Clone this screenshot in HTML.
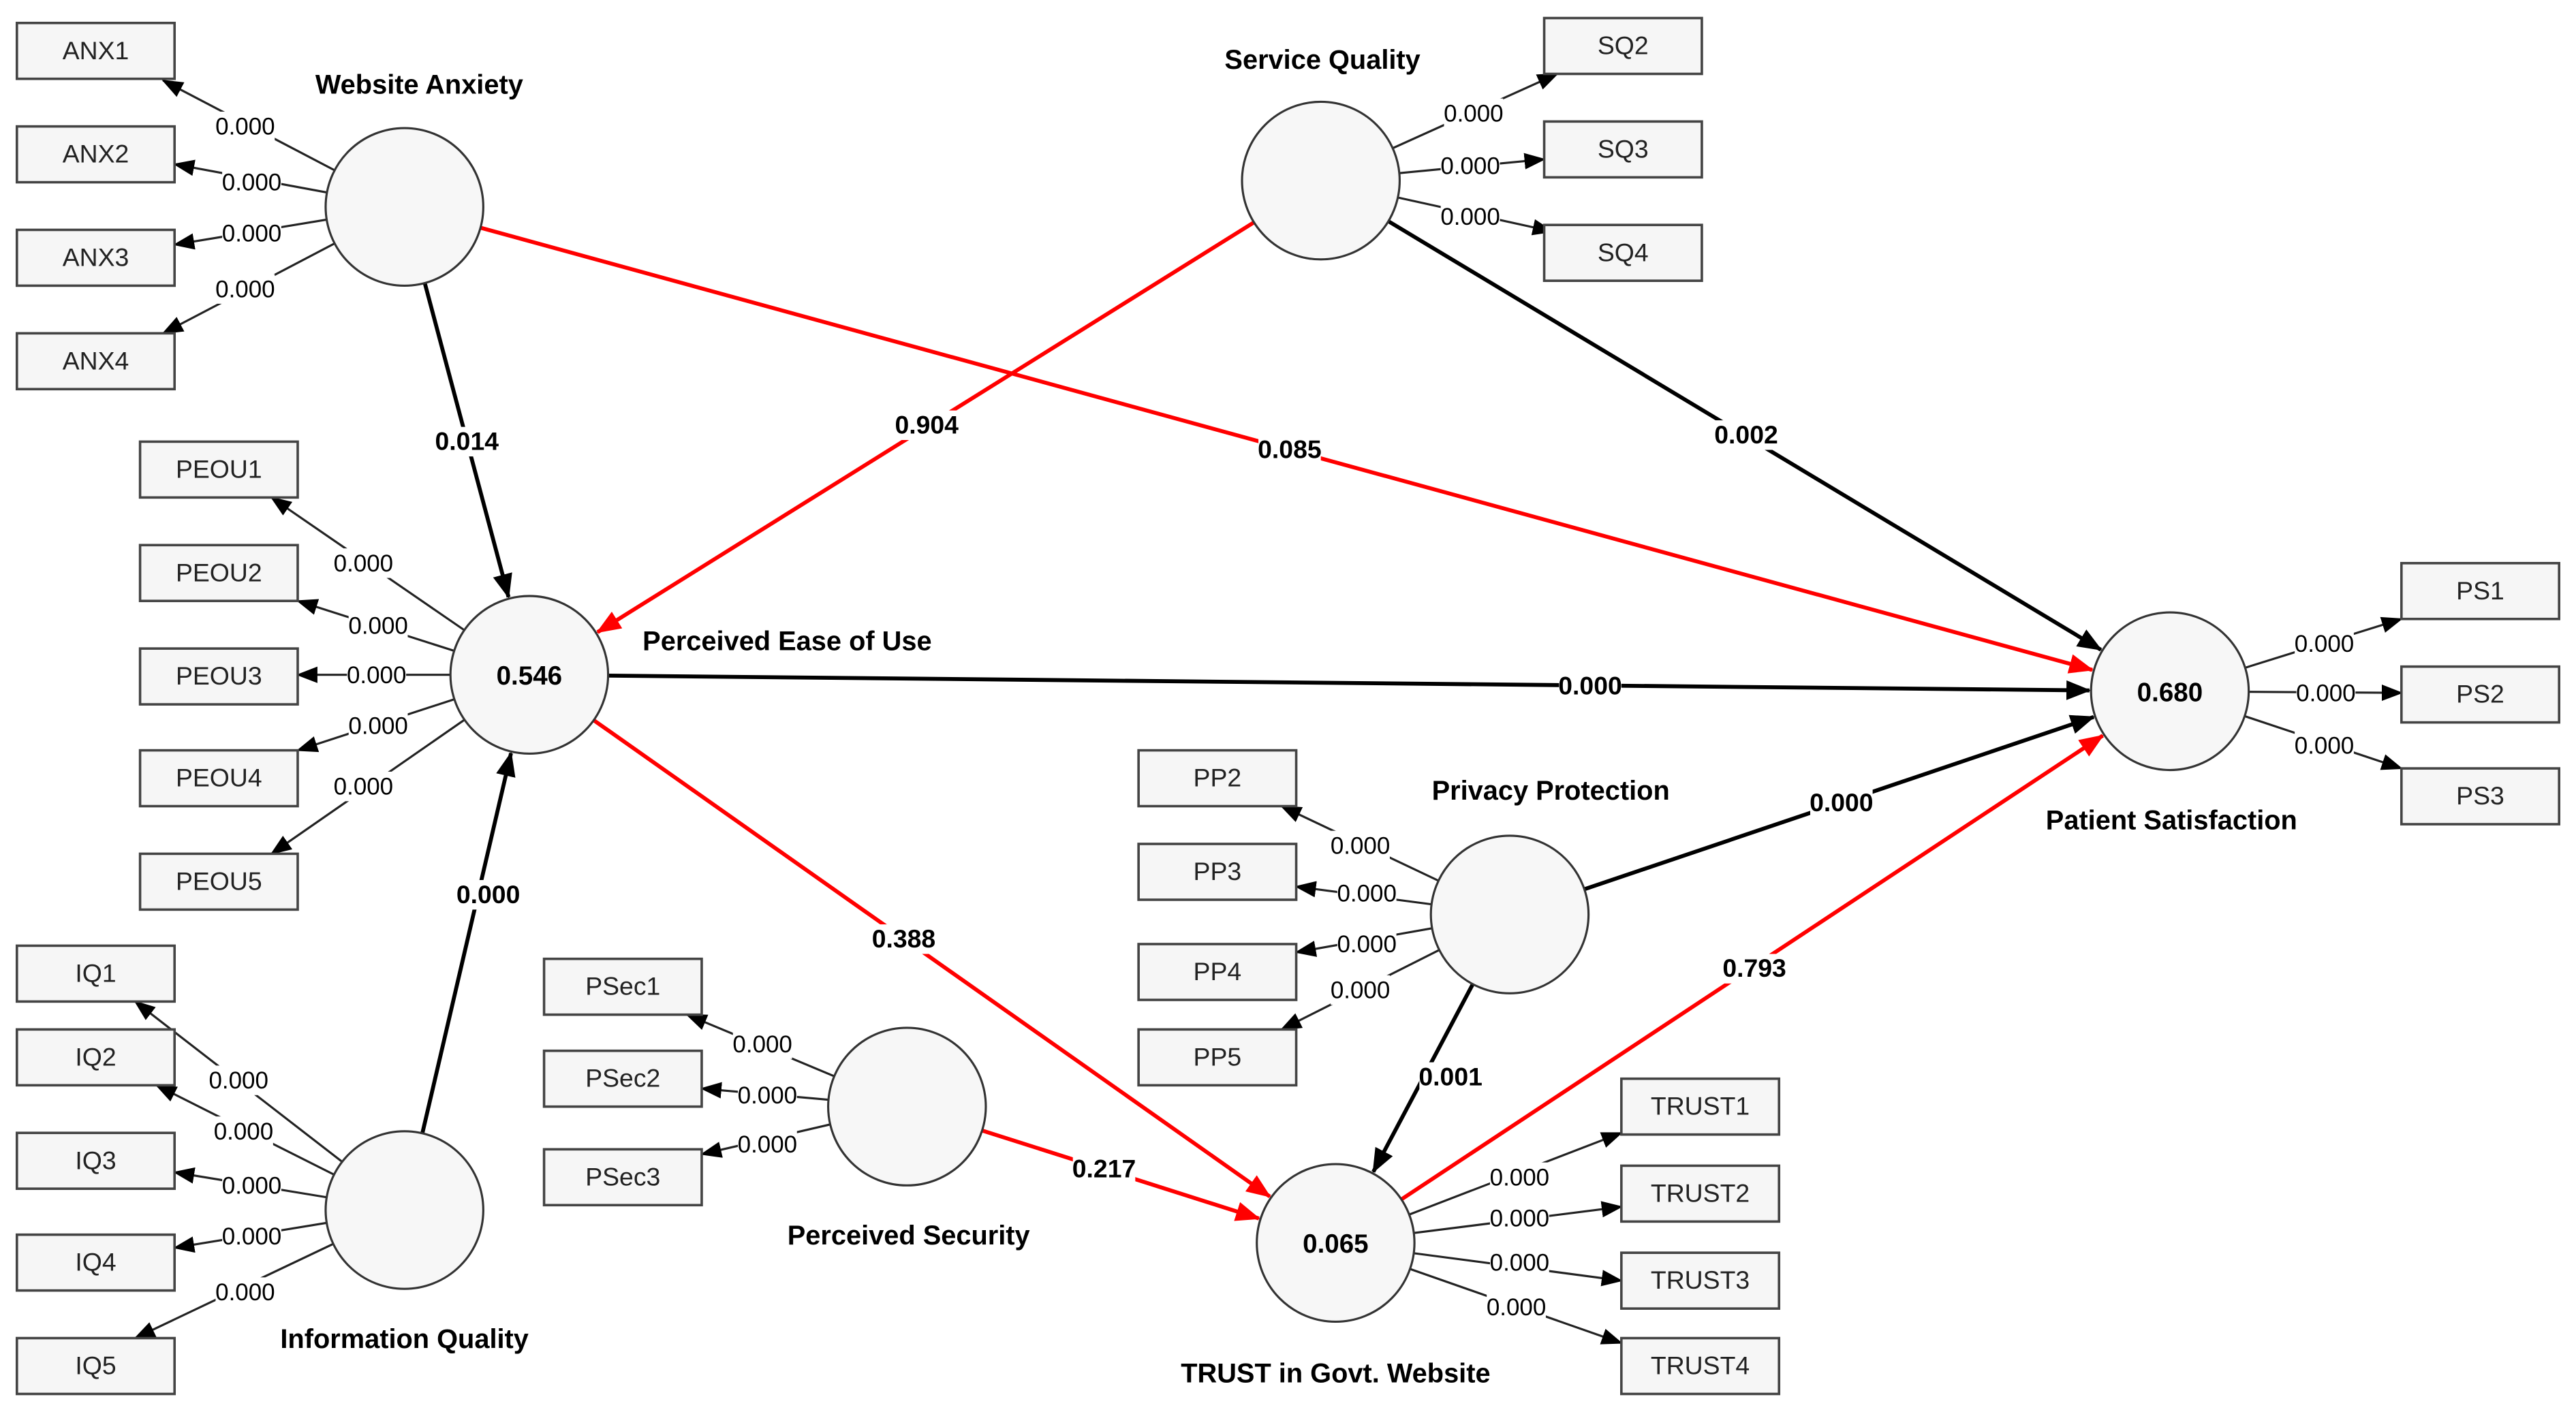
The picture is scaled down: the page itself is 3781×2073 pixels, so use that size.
<!DOCTYPE html>
<html><head><meta charset="utf-8"><style>
html,body{margin:0;padding:0;background:#fff;}
svg{display:block;}
text{font-family:"Liberation Sans",sans-serif;}
</style></head><body>
<svg id="s" xmlns="http://www.w3.org/2000/svg" width="3781" height="2073" viewBox="0 0 1568 860">
<defs>
<marker id="ab" markerUnits="userSpaceOnUse" markerWidth="16" markerHeight="14" refX="14" refY="7" orient="auto"><path d="M0,1 L15,7 L0,13 z" fill="#000"/></marker>
<marker id="ar" markerUnits="userSpaceOnUse" markerWidth="16" markerHeight="14" refX="14" refY="7" orient="auto"><path d="M0,1 L15,7 L0,13 z" fill="#f00"/></marker>
<marker id="as" markerUnits="userSpaceOnUse" markerWidth="14" markerHeight="12" refX="12" refY="6" orient="auto"><path d="M0,1 L13,6 L0,11 z" fill="#000"/></marker>
</defs>
<rect width="1568" height="860" fill="#fff"/>
<g id="lines"></g><g id="nodes"></g><g id="labels"></g>
</svg>
<script>
var NS="http://www.w3.org/2000/svg";
function el(p,t,a,txt){var e=document.createElementNS(NS,t);for(var k in a)e.setAttribute(k,a[k]);if(txt!==undefined)e.textContent=txt;document.getElementById(p).appendChild(e);return e;}
var R=48;
var C={WA:[246,126],SQ:[804,110],PEOU:[322,411],PS:[1321,421],PP:[919,557],PSEC:[552,674],TR:[813,757],IQ:[246,737]};
var vals={PEOU:"0.546",PS:"0.680",TR:"0.065"};
for(var k in C){el("nodes","circle",{cx:C[k][0],cy:C[k][1],r:R,fill:"#f7f7f7",stroke:"#333","stroke-width":1.3});
 if(vals[k])el("nodes","text",{x:C[k][0],y:C[k][1]+6,"text-anchor":"middle","font-size":16,"font-weight":"bold"},vals[k]);}
function lab(x,y,t,b){var w=b?38:36;el("labels","rect",{x:x-w/2,y:y-9,width:w,height:18,fill:"#fff"});
 el("labels","text",{x:x,y:y+5,"text-anchor":"middle","font-size":b?15.5:14.5,"font-weight":b?"bold":"normal"},t);}
function edge(a,tx,ty,col,lx,ly,t){var c=C[a];var dx=tx-c[0],dy=ty-c[1],d=Math.hypot(dx,dy);
 el("lines","line",{x1:c[0]+dx/d*R,y1:c[1]+dy/d*R,x2:tx,y2:ty,stroke:col=="r"?"#f00":"#000","stroke-width":2.4,"marker-end":col=="r"?"url(#ar)":"url(#ab)"});lab(lx,ly,t,true);}
function edgeN(a,b,col,lx,ly,t){var s=C[a],e=C[b];var dx=e[0]-s[0],dy=e[1]-s[1],d=Math.hypot(dx,dy);
 el("lines","line",{x1:s[0]+dx/d*R,y1:s[1]+dy/d*R,x2:e[0]-dx/d*(R+1),y2:e[1]-dy/d*(R+1),stroke:col=="r"?"#f00":"#000","stroke-width":2.4,"marker-end":col=="r"?"url(#ar)":"url(#ab)"});lab(lx,ly,t,true);}
function box(x,y,t){el("nodes","rect",{x:x,y:y,width:96,height:34,fill:"#f6f6f6",stroke:"#444","stroke-width":1.5});
 el("nodes","text",{x:x+48,y:y+22,"text-anchor":"middle","font-size":15.5,fill:"#222"},t);}
function load(a,tx,ty,lx,ly){var c=C[a];var dx=tx-c[0],dy=ty-c[1],d=Math.hypot(dx,dy);
 el("lines","line",{x1:c[0]+dx/d*R,y1:c[1]+dy/d*R,x2:tx,y2:ty,stroke:"#222","stroke-width":1.3,"marker-end":"url(#as)"});lab(lx,ly,"0.000",false);}
// boxes
[["ANX1",10,14],["ANX2",10,77],["ANX3",10,140],["ANX4",10,203],
 ["SQ2",940,11],["SQ3",940,74],["SQ4",940,137],
 ["PEOU1",85,269],["PEOU2",85,332],["PEOU3",85,395],["PEOU4",85,457],["PEOU5",85,520],
 ["PS1",1462,343],["PS2",1462,406],["PS3",1462,468],
 ["PP2",693,457],["PP3",693,514],["PP4",693,575],["PP5",693,627],
 ["IQ1",10,576],["IQ2",10,627],["IQ3",10,690],["IQ4",10,752],["IQ5",10,815],
 ["PSec1",331,584],["PSec2",331,640],["PSec3",331,700],
 ["TRUST1",987,657],["TRUST2",987,710],["TRUST3",987,763],["TRUST4",987,815]
].forEach(function(b){box(b[1],b[2],b[0]);});
// loadings
[["WA",99,49,149,77],["WA",106,100,153,111],["WA",106,149,153,142],["WA",99,203,149,176],
 ["SQ",948,45,897,69],["SQ",940,97,895,101],["SQ",945,141,895,132],
 ["PEOU",165,303,221,343],["PEOU",181,366,230,381],["PEOU",181,411,229,411],["PEOU",181,457,230,442],["PEOU",165,520,221,479],
 ["PS",1462,377,1415,392],["PS",1462,422,1416,422],["PS",1462,468,1415,454],
 ["PP",780,491,828,515],["PP",789,540,832,544],["PP",789,580,832,575],["PP",780,627,828,603],
 ["PSEC",418,618,464,636],["PSEC",427,663,467,667],["PSEC",427,703,467,697],
 ["TR",987,690,925,717],["TR",987,735,925,742],["TR",987,780,925,769],["TR",987,818,923,796],
 ["IQ",82,610,145,658],["IQ",95,661,148,689],["IQ",106,714,153,722],["IQ",106,760,153,753],["IQ",82,815,149,787]
].forEach(function(l){load(l[0],l[1],l[2],l[3],l[4]);});
// structural paths
edgeN("WA","PEOU","b",284,269,"0.014");
edgeN("SQ","PEOU","r",564,259,"0.904");
edgeN("WA","PS","r",785,274,"0.085");
edgeN("SQ","PS","b",1063,265,"0.002");
edgeN("PEOU","PS","b",968,418,"0.000");
edgeN("PEOU","TR","r",550,572,"0.388");
edgeN("IQ","PEOU","b",297,545,"0.000");
edgeN("PP","PS","b",1121,489,"0.000");
edgeN("TR","PS","r",1068,590,"0.793");
edgeN("PSEC","TR","r",672,712,"0.217");
edgeN("PP","TR","b",883,656,"0.001");
// titles
function ttl(x,y,t,a){el("labels","text",{x:x,y:y,"text-anchor":a||"middle","font-size":16.5,"font-weight":"bold"},t);}
ttl(255,57,"Website Anxiety");ttl(805,42,"Service Quality");ttl(391,396,"Perceived Ease of Use","start");
ttl(1322,505,"Patient Satisfaction");ttl(944,487,"Privacy Protection");ttl(553,758,"Perceived Security");
ttl(813,842,"TRUST in Govt. Website");ttl(246,821,"Information Quality");
</script>
</body></html>
